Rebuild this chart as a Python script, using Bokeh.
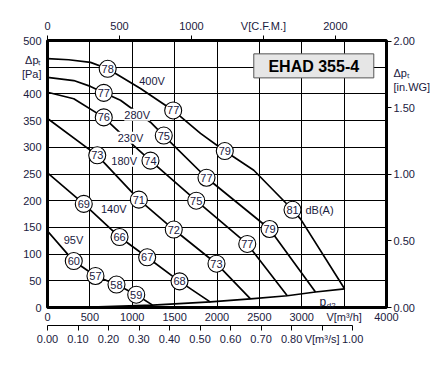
from bokeh.plotting import figure
from bokeh.models import (Range1d, LinearAxis, FixedTicker, NumeralTickFormatter,
                          Label, BoxAnnotation, ColumnDataSource)
from bokeh.core.properties import value
from bokeh.embed import file_html
from bokeh.resources import INLINE

FONT = "Liberation Sans"
TXT = "#1a2040"

# ---- data (V in m3/h, dp in Pa) ----
v_400 = [0, 250, 507, 710, 1097, 1483, 1805, 2092, 2434, 2891, 2985, 3505]
p_400 = [466, 464, 459, 447, 410, 369, 326, 293, 257, 183, 166, 35]
v_280 = [0, 310, 507, 664, 861, 1215, 1372, 1876, 2620, 3162]
p_280 = [431, 425, 414, 402, 388, 347, 322, 243, 147, 29]
v_230 = [0, 310, 664, 763, 1018, 1215, 1755, 2357, 2829]
p_230 = [403, 391, 356, 341, 303, 275, 200, 119, 22]
v_180 = [0, 587, 1078, 1490, 1994, 2395]
p_180 = [354, 285, 202, 146, 82, 16]
v_140 = [0, 428, 850, 1176, 1558, 1923]
p_140 = [252, 194, 132, 94, 49, 10]
v_95 = [0, 232, 310, 566, 814, 1047, 1240]
p_95 = [143, 101, 87, 59, 43, 24, 4.4]
v_pd2 = [0, 600, 1240, 1923, 2395, 2829, 3162, 3505]
p_pd2 = [0, 1.1, 4.4, 10.5, 16, 22, 29, 35]

# dB(A) markers
mk_v = [710, 1483, 2092, 2891, 664, 1372, 1876, 2620, 664, 1215, 1755, 2357,
        587, 1078, 1490, 1994, 428, 850, 1176, 1558, 310, 566, 814, 1047]
mk_p = [447, 369, 293, 183, 402, 322, 243, 147, 356, 275, 200, 119,
        285, 202, 146, 82, 194, 132, 94, 49, 87, 59, 43, 24]
mk_db = ["78", "77", "79", "81", "77", "75", "77", "79", "76", "74", "75", "77",
         "73", "71", "72", "73", "69", "66", "67", "68", "60", "57", "58", "59"]

# curve labels
lab_text = ["400V", "280V", "230V", "180V", "140V", "95V", "dB(A)"]
lab_v = [1233, 1058, 980, 905, 782, 307, 3210]
lab_p = [425, 361, 318, 275, 184, 127, 183]

x_ticks = [0, 500, 1000, 1500, 2000, 2500, 3000, 3500, 4000]
y_ticks = [0, 50, 100, 150, 200, 250, 300, 350, 400, 450, 500]
cfm_ticks = [0, 500, 1000, 1500, 2000]
ms_ticks = [0, 0.1, 0.2, 0.3, 0.4, 0.5, 0.6, 0.7, 0.8, 0.9, 1.0]
wg_ticks = [0, 0.5, 1.0, 1.5, 2.0]
wg_label_pos = 1.71

M3H_PER_CFM = 1.699
M3H_PER_M3S = 3600.0
PA_PER_INWG = 249.09

p = figure(frame_width=339, frame_height=267,
           x_range=Range1d(0, 4000), y_range=Range1d(0, 500),
           output_backend="svg", toolbar_location=None,
           min_border_left=47, min_border_top=40, min_border_right=50, min_border_bottom=0,
           background_fill_color="white", border_fill_color="white")
p.outline_line_color = "black"
p.outline_line_width = 3

p.extra_x_ranges = {"cfm": Range1d(0, 4000 / M3H_PER_CFM), "ms": Range1d(0, 4000 / M3H_PER_M3S)}
p.extra_y_ranges = {"wg": Range1d(0, 500 / PA_PER_INWG)}


def style_axis(ax, size="11px"):
    ax.major_label_text_font = FONT
    ax.major_label_text_font_size = size
    ax.major_label_text_color = TXT
    ax.minor_tick_line_color = None
    ax.minor_tick_out = 0
    ax.minor_tick_in = 0
    ax.major_tick_in = 0


def spacer(px):
    return LinearAxis(ticker=FixedTicker(ticks=[]), axis_line_color=None,
                      major_tick_line_color=None, major_tick_out=px, major_tick_in=0,
                      minor_tick_out=0, minor_tick_in=0, major_label_standoff=0)


# bottom m3/h axis (labels only)
xa = p.xaxis[0]
xa.ticker = FixedTicker(ticks=x_ticks)
xa.major_label_overrides = {3500: "V[m³/h]", "3500": "V[m³/h]"}
xa.axis_line_color = None
xa.major_tick_line_color = None
xa.major_tick_out = 0
xa.major_label_standoff = 3
style_axis(xa)

# left Pa axis (labels only)
ya = p.yaxis[0]
ya.ticker = FixedTicker(ticks=y_ticks)
ya.major_label_overrides = {450: "Δpₜ\n[Pa]", "450": "Δpₜ\n[Pa]"}
ya.axis_line_color = None
ya.major_tick_line_color = None
ya.major_tick_out = 0
ya.major_label_standoff = 6
style_axis(ya)

# top CFM axis
p.add_layout(spacer(8), "above")
cfm = LinearAxis(x_range_name="cfm", ticker=FixedTicker(ticks=cfm_ticks), bounds=(0, 2000),
                 major_label_overrides={1500: "V[C.F.M.]", "1500": "V[C.F.M.]"},
                 major_tick_out=5, major_label_standoff=4,
                 axis_line_color="black", major_tick_line_color="black")
style_axis(cfm)
p.add_layout(cfm, "above")

# bottom m3/s axis
p.add_layout(spacer(11), "below")
ms = LinearAxis(x_range_name="ms", ticker=FixedTicker(ticks=ms_ticks), bounds=(0, 1.0),
                formatter=NumeralTickFormatter(format="0.00"),
                major_label_overrides={0.9: "V[m³/s]", "0.9": "V[m³/s]", "0.90": "V[m³/s]"},
                major_tick_out=5, major_label_standoff=2,
                axis_line_color="black", major_tick_line_color="black")
style_axis(ms)
p.add_layout(ms, "below")

# right in.WG axis: line + ticks (labels not drawn), then a labels-only axis
p.add_layout(spacer(9), "right")
wg = LinearAxis(y_range_name="wg", ticker=FixedTicker(ticks=wg_ticks), bounds=(0, 2.0),
                major_tick_out=5, major_label_standoff=0,
                axis_line_color="black", major_tick_line_color="black")
style_axis(wg)
wg.major_label_text_color = None
p.add_layout(wg, "right")
wgl = LinearAxis(y_range_name="wg", ticker=FixedTicker(ticks=wg_ticks + [wg_label_pos]),
                 formatter=NumeralTickFormatter(format="0.00"),
                 major_label_overrides={wg_label_pos: "Δpₜ\n[in.WG]",
                                        str(wg_label_pos): "Δpₜ\n[in.WG]"},
                 major_tick_out=0, major_label_standoff=2,
                 axis_line_color=None, major_tick_line_color=None)
style_axis(wgl)
p.add_layout(wgl, "right")

# grid
p.xgrid.ticker = FixedTicker(ticks=[500, 1000, 1500, 2000, 2500, 3000, 3500])
p.ygrid.ticker = FixedTicker(ticks=[50, 100, 150, 200, 250, 300, 350, 400, 450])
p.xgrid.grid_line_color = "black"
p.ygrid.grid_line_color = "black"
p.xgrid.grid_line_width = 1
p.ygrid.grid_line_width = 1
p.xgrid.grid_line_alpha = 1
p.ygrid.grid_line_alpha = 1

# curves
for vx, py in [(v_400, p_400), (v_280, p_280), (v_230, p_230), (v_180, p_180),
               (v_140, p_140), (v_95, p_95), (v_pd2, p_pd2)]:
    p.line(vx, py, line_color="black", line_width=1.7, line_join="round")

# curve labels with white background
for t, vx, py in zip(lab_text, lab_v, lab_p):
    p.add_layout(Label(x=vx, y=py, text=t, text_align="center", text_baseline="middle",
                       text_font=FONT, text_font_size="11px", text_color=TXT,
                       background_fill_color="white", background_fill_alpha=1.0))

# markers
src = ColumnDataSource(dict(v=mk_v, p=mk_p, t=mk_db))
p.scatter("v", "p", source=src, size=17, marker="circle", fill_color="white",
          line_color="black", line_width=1.1)
p.text("v", "p", text="t", source=src, text_align="center", text_baseline="middle",
       text_font=value(FONT), text_font_size="11px", text_color=TXT)

# pd2 label
p.add_layout(Label(x=3250, y=9.4, text="p", text_align="center", text_baseline="alphabetic",
                   text_font=FONT, text_font_size="12px", text_color=TXT))
p.add_layout(Label(x=3295, y=3.0, text="d2", text_align="left", text_baseline="alphabetic",
                   text_font=FONT, text_font_size="8px", text_color=TXT))

# title box
p.add_layout(BoxAnnotation(left=2434, right=3850, bottom=430, top=475,
                           fill_color="#e6e6e6", fill_alpha=1.0,
                           line_color="#555555", line_width=1, line_alpha=1.0))
p.add_layout(Label(x=3142, y=452, text="EHAD 355-4", text_align="center", text_baseline="middle",
                   text_font=FONT, text_font_size="16px", text_font_style="bold",
                   text_color="black"))

open("out.html", "w").write(file_html(p, INLINE))
